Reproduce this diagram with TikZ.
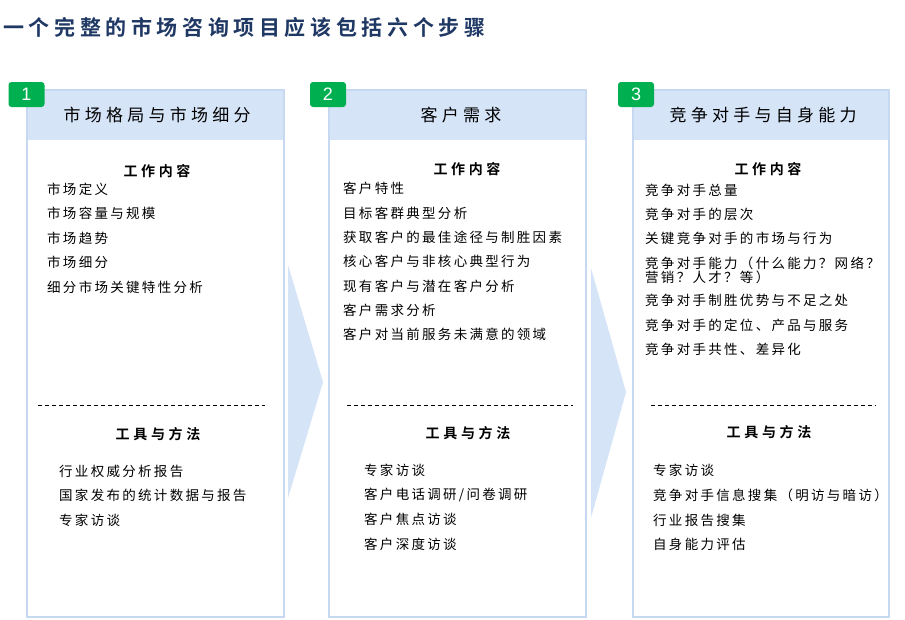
\documentclass[tikz,border=0pt]{standalone}
\usepackage{fontspec}
\setmainfont{Liberation Sans}
\newfontfamily\titlefont[LetterSpace=22]{Noto Sans CJK SC Bold}
\newfontfamily\hdrfont[LetterSpace=25]{Noto Sans CJK SC}
\newfontfamily\secfont[LetterSpace=26]{Noto Sans CJK SC Bold}
\newfontfamily\itemfont[LetterSpace=17]{Noto Sans CJK SC}
\newfontfamily\badgefont{Liberation Sans}
\definecolor{titleblue}{HTML}{1F3864}
\definecolor{boxborder}{HTML}{C6D9F1}
\definecolor{hdrfill}{HTML}{D6E4F8}
\definecolor{arrowfill}{HTML}{D6E4F8}
\definecolor{badgegreen}{HTML}{00B050}
\tikzset{
  titlestyle/.style={anchor=west, inner sep=0, text=titleblue, font=\titlefont\fontsize{21}{21}\selectfont},
  hdrstyle/.style={inner sep=0, font=\hdrfont\fontsize{17}{17}\selectfont},
  secstyle/.style={inner sep=0, font=\secfont\fontsize{14}{14}\selectfont},
  itemstyle/.style={anchor=west, inner sep=0, align=left, font=\itemfont\fontsize{13.5}{12.5}\selectfont},
  badgestyle/.style={fill=badgegreen, rounded corners=3pt, minimum width=36pt, minimum height=25pt, inner sep=0, text=white, font=\badgefont\fontsize{18}{18}\selectfont},
  boxstyle/.style={draw=boxborder, line width=2pt, fill=white},
  hdrfillstyle/.style={fill=hdrfill},
  chevron/.style={fill=arrowfill, draw=none},
  dashstyle/.style={draw=black, line width=0.8pt, dash pattern=on 4pt off 3pt},
}
\begin{document}
\begin{tikzpicture}[x=1pt, y=-1pt]
\useasboundingbox (0,0) rectangle (905,619);
\fill[white] (0,0) rectangle (905,619);

% title
\node[titlestyle] (title) at (3,27) {一个完整的市场咨询项目应该包括六个步骤};

% chevrons between columns
\fill[chevron] (288,265) -- (323,382) -- (288,498) -- cycle;
\fill[chevron] (591,268) -- (626,392) -- (591,518) -- cycle;

% boxes
\draw[boxstyle] (27,90) rectangle (284,617);
\fill[hdrfillstyle] (28,91) rectangle (283,140);
\draw[boxstyle] (329,90) rectangle (586,617);
\fill[hdrfillstyle] (330,91) rectangle (585,140);
\draw[boxstyle] (633,90) rectangle (889,617);
\fill[hdrfillstyle] (634,91) rectangle (888,140);

% badges
\node[badgestyle] (b1) at (26.5,94.5) {1};
\node[badgestyle] (b2) at (328,94.5) {2};
\node[badgestyle] (b3) at (636,94.5) {3};

% headers
\node[hdrstyle] (h1) at (157,115) {市场格局与市场细分};
\node[hdrstyle] (h2) at (461,115) {客户需求};
\node[hdrstyle] (h3) at (763,115) {竞争对手与自身能力};

% column 1
\node[secstyle] (w1) at (157,171) {工作内容};
\node[itemstyle] (c1a) at (47,189) {市场定义};
\node[itemstyle] (c1b) at (47,213) {市场容量与规模};
\node[itemstyle] (c1c) at (47,238) {市场趋势};
\node[itemstyle] (c1d) at (47,262) {市场细分};
\node[itemstyle] (c1e) at (47,287) {细分市场关键特性分析};
\draw[dashstyle] (38,405) -- (265,405);
\node[secstyle] (t1) at (158,434) {工具与方法};
\node[itemstyle] (d1a) at (59,471) {行业权威分析报告};
\node[itemstyle] (d1b) at (59,495) {国家发布的统计数据与报告};
\node[itemstyle] (d1c) at (59,520) {专家访谈};

% column 2
\node[secstyle] (w2) at (467,169) {工作内容};
\node[itemstyle] (c2a) at (343,188) {客户特性};
\node[itemstyle] (c2b) at (343,213) {目标客群典型分析};
\node[itemstyle] (c2c) at (343,237) {获取客户的最佳途径与制胜因素};
\node[itemstyle] (c2d) at (343,261) {核心客户与非核心典型行为};
\node[itemstyle] (c2e) at (343,286) {现有客户与潜在客户分析};
\node[itemstyle] (c2f) at (343,310) {客户需求分析};
\node[itemstyle] (c2g) at (343,334) {客户对当前服务未满意的领域};
\draw[dashstyle] (347,405) -- (573,405);
\node[secstyle] (t2) at (468,433) {工具与方法};
\node[itemstyle] (d2a) at (364,470) {专家访谈};
\node[itemstyle] (d2b) at (364,495) {客户电话调研/问卷调研};
\node[itemstyle] (d2c) at (364,519) {客户焦点访谈};
\node[itemstyle] (d2d) at (364,544) {客户深度访谈};

% column 3
\node[secstyle] (w3) at (768,169) {工作内容};
\node[itemstyle] (c3a) at (645,190) {竞争对手总量};
\node[itemstyle] (c3b) at (645,214) {竞争对手的层次};
\node[itemstyle] (c3c) at (645,238) {关键竞争对手的市场与行为};
\node[itemstyle] (c3d) at (645,270) {竞争对手能力（什么能力？网络？\\营销？人才？等）};
\node[itemstyle] (c3e) at (645,300) {竞争对手制胜优势与不足之处};
\node[itemstyle] (c3f) at (645,325) {竞争对手的定位、产品与服务};
\node[itemstyle] (c3g) at (645,349) {竞争对手共性、差异化};
\draw[dashstyle] (651,405) -- (876,405);
\node[secstyle] (t3) at (769,432) {工具与方法};
\node[itemstyle] (d3a) at (653,470) {专家访谈};
\node[itemstyle] (d3b) at (653,495) {竞争对手信息搜集（明访与暗访）};
\node[itemstyle] (d3c) at (653,520) {行业报告搜集};
\node[itemstyle] (d3d) at (653,544) {自身能力评估};
\end{tikzpicture}
\end{document}
